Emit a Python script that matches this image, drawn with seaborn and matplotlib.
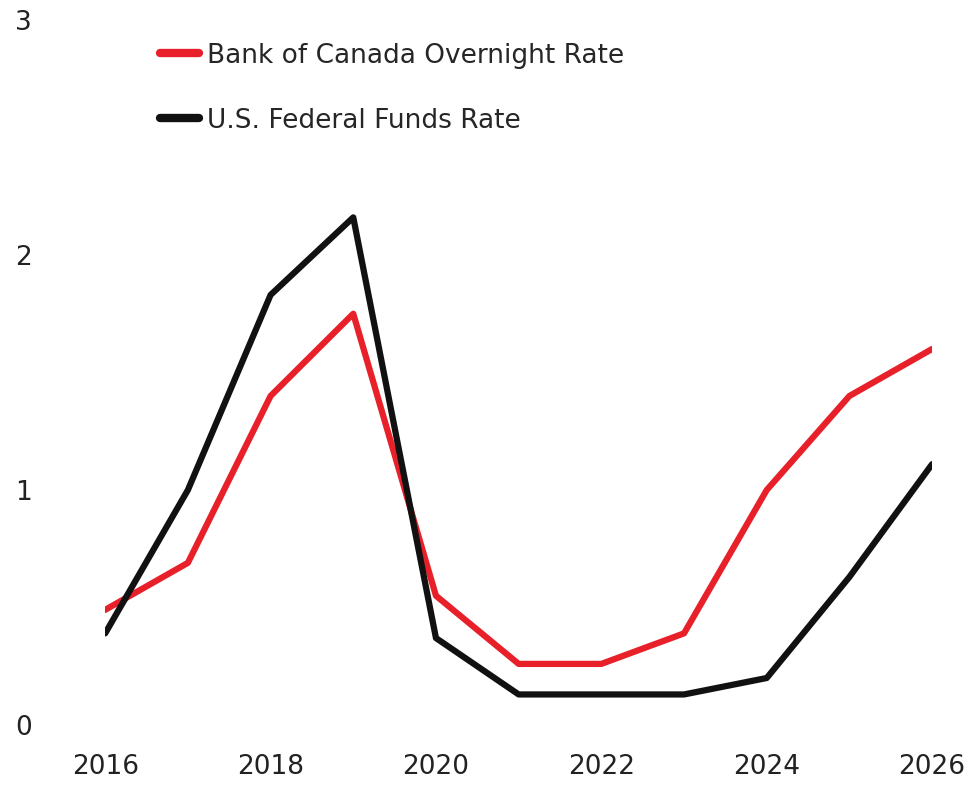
import pandas as pd
import matplotlib.pyplot as plt
import seaborn as sns

# data
years = [2016, 2017, 2018, 2019, 2020, 2021, 2022, 2023, 2024, 2025, 2026]
boc_rate = [0.49, 0.69, 1.40, 1.75, 0.55, 0.26, 0.26, 0.39, 1.00, 1.40, 1.60]
fed_rate = [0.39, 1.00, 1.83, 2.16, 0.37, 0.13, 0.13, 0.13, 0.20, 0.63, 1.11]
series_names = ['Bank of Canada Overnight Rate', 'U.S. Federal Funds Rate']
y_ticks = [0, 1, 2, 3]
x_ticks = [2016, 2018, 2020, 2022, 2024, 2026]

df = pd.DataFrame({
    'year': years * 2,
    'rate': boc_rate + fed_rate,
    'series': [series_names[0]] * len(years) + [series_names[1]] * len(years),
})

sns.set_theme(style='white')
plt.rcParams['font.family'] = ['DejaVu Sans']

fig = plt.figure(figsize=(9.74, 7.86), dpi=100)
ax = fig.add_axes([0.108, 0.0776, 0.849, 0.897])

sns.lineplot(data=df, x='year', y='rate', hue='series',
             palette=['#E8202A', '#111111'], linewidth=4.5, ax=ax)

ax.set_xlim(2016, 2026)
ax.set_ylim(0, 3)
ax.set_xticks(x_ticks)
ax.set_yticks(y_ticks)
ax.set_xlabel('')
ax.set_ylabel('')
sns.despine(ax=ax, left=True, bottom=True)
ax.tick_params(axis='y', length=0, pad=65, labelsize=19, colors='#222222')
ax.tick_params(axis='x', length=0, pad=21, labelsize=19, colors='#222222')
for lab in ax.get_yticklabels():
    lab.set_horizontalalignment('left')

leg = ax.legend(loc='upper left', bbox_to_anchor=(0.066, 0.968), frameon=False,
                fontsize=19, handlelength=1.5, handletextpad=0.3,
                labelspacing=1.48, borderpad=0, borderaxespad=0)
for line in leg.get_lines():
    line.set_linewidth(6)
    line.set_solid_capstyle('round')

fig.savefig('out.png', dpi=100)
